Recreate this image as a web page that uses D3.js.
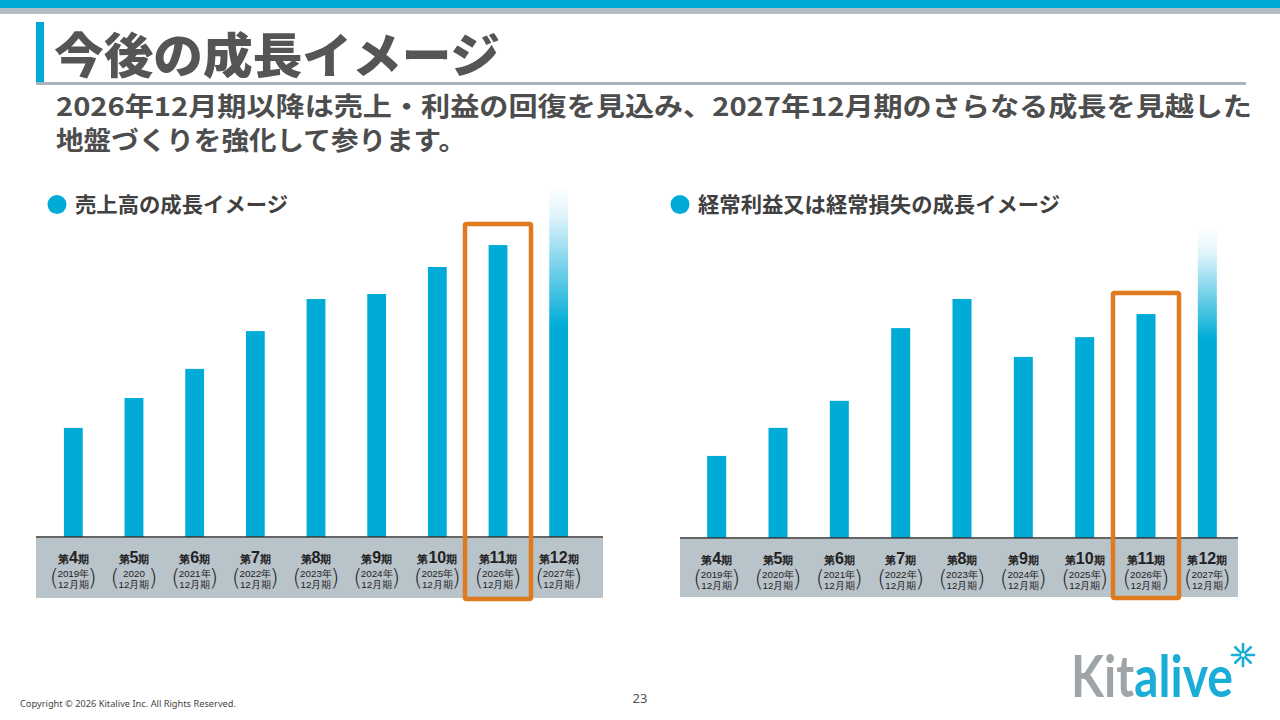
<!DOCTYPE html>
<html>
<head>
<meta charset="utf-8">
<script src="https://cdn.jsdelivr.net/npm/d3@7"></script>
<style>
    body { margin: 0; background: #fff; }
    svg { display: block; font-family: "Noto Sans CJK JP", "Noto Sans", sans-serif; }
</style>
</head>
<body>
<div id="slide"></div>
<script>
// Data (relative bar heights, no axis on the original)
const periods = ['4', '5', '6', '7', '8', '9', '10', '11', '12'];
const salesYears = ['2019年', '2020', '2021年', '2022年', '2023年', '2024年', '2025年', '2026年', '2027年'];
const profitYears = ['2019年', '2020年', '2021年', '2022年', '2023年', '2024年', '2025年', '2026年', '2027年'];
const monthLabel = '12月期';
const salesValues = [30.3, 38.6, 46.7, 57.2, 66.1, 67.5, 75.0, 81.1, 97.8];
const profitValues = [22.8, 30.6, 38.1, 58.3, 66.4, 50.3, 55.8, 62.2, 86.4];
const highlightPeriod = '11';
const futurePeriod = '12';

const BLUE = '#00acd7';
const ORANGE = '#e07a1f';
const TEXT = '#4d4d4d';

class GrowthChart {

    svg; g; // selections
    data; years; // internal data
    scaleX; scaleY;

    // panel = {left, right, base, bandBottom, rangeX, headX, headLen}
    constructor(svg, panel, title) {
        this.svg = svg;
        this.panel = panel;
        this.g = svg.append('g');

        // chart heading with bullet
        this.g.append('circle')
            .attr('cx', panel.headX).attr('cy', 204.5).attr('r', 9.5)
            .attr('fill', BLUE);
        this.g.append('text')
            .attr('x', panel.headX + 18).attr('y', 212)
            .attr('font-size', 21).attr('font-weight', 700)
            .attr('fill', '#404040')
            .attr('textLength', panel.headLen).attr('lengthAdjust', 'spacingAndGlyphs')
            .text(title);
    }

    #updateScales() {
        this.scaleX = d3.scaleBand(periods, this.panel.rangeX)
            .paddingInner(0.69).paddingOuter(0.345);
        this.scaleY = d3.scaleLinear([0, 100], [this.panel.base, this.panel.base - 360]);
    }

    #drawBand() {
        const p = this.panel;
        this.g.append('rect')
            .attr('x', p.left).attr('y', p.base + 1)
            .attr('width', p.right - p.left).attr('height', p.bandBottom - p.base - 1)
            .attr('fill', '#b9c3ca');
    }

    #drawBars() {
        const id = 'fade' + this.panel.left;
        const grad = this.svg.append('defs').append('linearGradient')
            .attr('id', id).attr('x1', 0).attr('y1', 0).attr('x2', 0).attr('y2', 1);
        grad.append('stop').attr('offset', 0).attr('stop-color', '#ffffff');
        grad.append('stop').attr('offset', 0.08).attr('stop-color', '#e4f5fb');
        grad.append('stop').attr('offset', this.panel.fadeStop).attr('stop-color', BLUE);
        grad.append('stop').attr('offset', 1).attr('stop-color', BLUE);

        this.g.selectAll('rect.bar')
            .data(this.data)
            .join('rect')
            .classed('bar', true)
            .attr('x', d => this.scaleX(d.period))
            .attr('y', d => this.scaleY(d.value))
            .attr('width', this.scaleX.bandwidth())
            .attr('height', d => this.scaleY(0) - this.scaleY(d.value))
            .attr('fill', d => d.period === futurePeriod ? `url(#${id})` : BLUE);
    }

    #drawAxis() {
        const p = this.panel;
        const axis = this.g.append('g')
            .attr('transform', `translate(0,${p.base})`)
            .call(d3.axisBottom(this.scaleX).tickSize(0).tickSizeOuter(0).tickFormat(''));
        axis.select('.domain').remove();

        this.g.append('line')
            .attr('x1', p.left).attr('x2', p.right)
            .attr('y1', p.base).attr('y2', p.base)
            .attr('stroke', '#333').attr('stroke-width', 1.6);

        const years = this.years;
        axis.selectAll('.tick').each(function (d, i) {
            const t = d3.select(this);
            t.selectAll('text').remove();
            const head = t.append('text')
                .attr('y', 26).attr('text-anchor', 'middle')
                .attr('font-weight', 700).attr('fill', '#222');
            head.append('tspan').attr('font-size', 11).text('第');
            head.append('tspan').attr('font-size', 16).text(d);
            head.append('tspan').attr('font-size', 11).text('期');

            t.append('text')
                .attr('y', 40).attr('text-anchor', 'middle')
                .attr('font-size', 9.8).attr('fill', '#222')
                .text(years[i]);
            t.append('text')
                .attr('y', 51).attr('text-anchor', 'middle')
                .attr('font-size', 9.8).attr('fill', '#222')
                .text(monthLabel);
            [['(', -19], [')', 19]].forEach(([ch, dx]) => {
                t.append('text')
                    .attr('x', dx).attr('y', 49)
                    .attr('text-anchor', 'middle')
                    .attr('font-size', 23).attr('font-weight', 200)
                    .attr('fill', '#222')
                    .attr('font-family', 'DejaVu Sans')
                    .text(ch);
            });
        });
    }

    #drawHighlight() {
        const d = this.data.find(e => e.period === highlightPeriod);
        const cx = this.scaleX(d.period) + this.scaleX.bandwidth() / 2;
        const top = this.scaleY(d.value) - 21;
        this.g.append('rect')
            .attr('x', cx - 33).attr('y', top)
            .attr('width', 66).attr('height', this.panel.bandBottom + 1 - top)
            .attr('fill', 'none')
            .attr('stroke', ORANGE).attr('stroke-width', 4.5)
            .attr('rx', 1.5);
    }

    render(values, years) {
        this.data = periods.map((p, i) => ({ period: p, value: values[i] }));
        this.years = years;
        this.#updateScales();
        this.#drawBand();
        this.#drawBars();
        this.#drawAxis();
        this.#drawHighlight();
        return this;
    }
}

const svg = d3.select('#slide').append('svg')
    .attr('width', 1280).attr('height', 720);

// header stripes
svg.append('rect').attr('x', 0).attr('y', 0).attr('width', 1280).attr('height', 8).attr('fill', '#00aad6');
svg.append('rect').attr('x', 0).attr('y', 8).attr('width', 1280).attr('height', 6).attr('fill', '#b3bdc3');

// title block
svg.append('rect').attr('x', 36).attr('y', 22).attr('width', 8).attr('height', 61).attr('fill', '#00aad6');
svg.append('rect').attr('x', 36).attr('y', 82).attr('width', 1210).attr('height', 3).attr('fill', '#a9b3b9');
svg.append('text')
    .attr('x', 54).attr('y', 73)
    .attr('font-size', 48).attr('font-weight', 900)
    .attr('fill', '#555')
    .attr('textLength', 446).attr('lengthAdjust', 'spacingAndGlyphs')
    .text('今後の成長イメージ');

svg.append('text')
    .attr('x', 56).attr('y', 116)
    .attr('font-size', 26).attr('font-weight', 700)
    .attr('fill', TEXT)
    .attr('textLength', 1196).attr('lengthAdjust', 'spacingAndGlyphs')
    .text('2026年12月期以降は売上・利益の回復を見込み、2027年12月期のさらなる成長を見越した');
svg.append('text')
    .attr('x', 56).attr('y', 150)
    .attr('font-size', 26).attr('font-weight', 700)
    .attr('fill', TEXT)
    .attr('textLength', 410).attr('lengthAdjust', 'spacingAndGlyphs')
    .text('地盤づくりを強化して参ります。');

new GrowthChart(svg,
    { left: 36, right: 603, base: 537, bandBottom: 598, rangeX: [43, 589], fadeStop: 0.40,
      headX: 57, headLen: 213 },
    '売上高の成長イメージ').render(salesValues, salesYears);

new GrowthChart(svg,
    { left: 680, right: 1238, base: 538, bandBottom: 597, rangeX: [686, 1238], fadeStop: 0.36,
      headX: 680, headLen: 362 },
    '経常利益又は経常損失の成長イメージ').render(profitValues, profitYears);

// footer
svg.append('text')
    .attr('x', 20).attr('y', 707)
    .attr('font-size', 9).attr('fill', '#444')
    .attr('font-family', 'Noto Sans')
    .attr('textLength', 216).attr('lengthAdjust', 'spacingAndGlyphs')
    .text('Copyright © 2026 Kitalive Inc. All Rights Reserved.');
svg.append('text')
    .attr('x', 640).attr('y', 703)
    .attr('text-anchor', 'middle')
    .attr('font-size', 13).attr('fill', '#555')
    .attr('font-family', 'Noto Sans')
    .text('23');

// logo: one text, "Kit" grey and "alive" blue through a hard-stop gradient
const logoFill = svg.append('defs').append('linearGradient')
    .attr('id', 'logoFill').attr('gradientUnits', 'userSpaceOnUse')
    .attr('x1', 1071).attr('x2', 1233).attr('y1', 0).attr('y2', 0);
logoFill.append('stop').attr('offset', 0.4).attr('stop-color', '#9ea4a8');
logoFill.append('stop').attr('offset', 0.4).attr('stop-color', '#1aadd8');
svg.append('text')
    .attr('x', 1071).attr('y', 697)
    .attr('font-family', 'Lato').attr('font-size', 57).attr('font-weight', 700)
    .attr('fill', 'url(#logoFill)')
    .attr('textLength', 162).attr('lengthAdjust', 'spacingAndGlyphs')
    .text('Kitalive');

const star = svg.append('g').attr('transform', 'translate(1243,655)')
    .attr('stroke', '#1aadd8').attr('stroke-width', 2.6).attr('stroke-linecap', 'round');
d3.range(8).forEach(k => {
    const a = k * Math.PI / 4;
    star.append('line')
        .attr('x1', 4 * Math.cos(a)).attr('y1', 4 * Math.sin(a))
        .attr('x2', 11 * Math.cos(a)).attr('y2', 11 * Math.sin(a));
});
star.append('circle').attr('r', 2.8).attr('fill', 'none').attr('stroke-width', 1.8);
</script>
</body>
</html>
